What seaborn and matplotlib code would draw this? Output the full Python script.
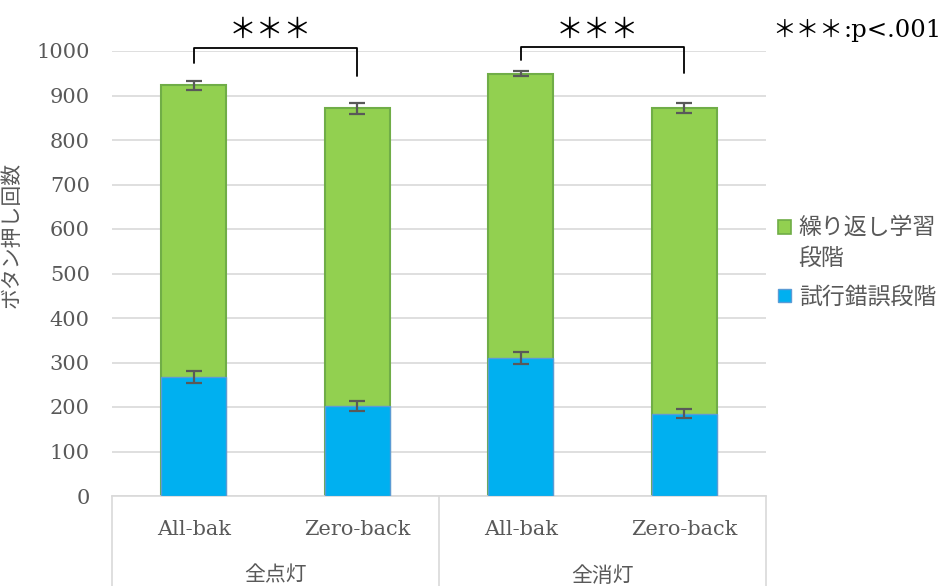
import matplotlib
matplotlib.use("Agg")
import matplotlib.pyplot as plt
import seaborn as sns
import pandas as pd
from matplotlib.patches import Patch, Rectangle
from matplotlib.legend_handler import HandlerPatch

# ---- data ----
groups = ["全点灯", "全点灯", "全消灯", "全消灯"]
group_names = ["全点灯", "全消灯"]
conditions = ["All-bak", "Zero-back", "All-bak", "Zero-back"]
trial_error = [268, 202, 310, 185]          # 試行錯誤段階
trial_error_err = [14, 12, 14, 10]
repetition = [655, 669, 639, 687]           # 繰り返し学習段階
total_err = [10, 12, 6, 11]
legend_labels = ["繰り返し学習\n段階", "試行錯誤段階"]
yticks = [0, 100, 200, 300, 400, 500, 600, 700, 800, 900, 1000]
ylabel = "ボタン押し回数"
sig_label = "＊＊＊"
sig_note_star = "＊＊＊"
sig_note_p = ":p<.001"

GREEN = "#92D050"
GREEN_EDGE = "#70AD47"
BLUE = "#00B0F0"
BLUE_EDGE = "#5B9BD5"
GRID = "#D9D9D9"
TXT = "#595959"

sns.set_style("white")
plt.rcParams['font.family'] = ['DejaVu Serif', 'Noto Sans CJK JP']

keys = [f"{g}|{c}" for g, c in zip(groups, conditions)]
totals = [t + r for t, r in zip(trial_error, repetition)]
df = pd.DataFrame({"key": keys, "trial": trial_error, "total": totals})

W, H = 946, 586
fig = plt.figure(figsize=(W / 100, H / 100), dpi=100)
L, R, B, T = 112, 766, 496, 51
ax = fig.add_axes([L / W, 1 - B / H, (R - L) / W, (B - T) / H])

sns.barplot(data=df, x="key", y="total", order=keys, color=GREEN, saturation=1,
            edgecolor=GREEN_EDGE, linewidth=1.5, width=0.4, errorbar=None, ax=ax, zorder=2)
sns.barplot(data=df, x="key", y="trial", order=keys, color=BLUE, saturation=1,
            edgecolor=BLUE_EDGE, linewidth=1.0, width=0.4, errorbar=None, ax=ax, zorder=3)

xs = list(range(len(keys)))
ax.errorbar(xs, totals, yerr=total_err, fmt='none', ecolor=TXT, elinewidth=1.6,
            capsize=5.5, capthick=1.6, zorder=5)
ax.errorbar(xs, trial_error, yerr=trial_error_err, fmt='none', ecolor=TXT, elinewidth=1.6,
            capsize=5.5, capthick=1.6, zorder=5)

ax.set_xlim(-0.5, 3.5)
ax.set_ylim(0, 1000)
ax.set_yticks(yticks)
ax.set_axisbelow(True)
ax.yaxis.grid(True, color=GRID, linewidth=1.2)
ax.xaxis.grid(False)
for s in ["left", "right", "top"]:
    ax.spines[s].set_visible(False)
ax.spines["bottom"].set_color(GRID)
ax.spines["bottom"].set_linewidth(1.2)

ax.set_xticks(xs)
ax.set_xticklabels(conditions)
ax.tick_params(axis='x', length=0, pad=17, labelsize=15, labelcolor=TXT)
ax.tick_params(axis='y', length=0, pad=16, labelsize=15, labelcolor=TXT)
ax.set_xlabel("")
ax.set_ylabel(ylabel, fontsize=15, color=TXT)
ax.yaxis.set_label_coords((22 - L) / (R - L), (B - 235) / (B - T))

# two-level category separators
trans = ax.get_xaxis_transform()
for xv in [-0.5, 1.5, 3.5]:
    ax.plot([xv, xv], [0, -(H - B) / (B - T) - 0.01], transform=trans, color=GRID,
            linewidth=1.2, clip_on=False)
for i, g in enumerate(group_names):
    ax.text(2 * i + 0.5, (B - 576) / (B - T), g, transform=trans, ha='center', va='center',
            fontsize=15, color=TXT)

# significance brackets
for x0, x1, ytop, yl, yr in [(0, 1, 1007, 973, 944), (2, 3, 1009, 980, 951)]:
    ax.plot([x0, x0, x1, x1], [yl, ytop, ytop, yr], color="black", linewidth=1.3,
            clip_on=False, zorder=6)
    ax.text((x0 + x1) / 2 - 0.03, 1047, sig_label, ha='center', va='center', fontsize=20,
            color="black", clip_on=False, family=['Noto Sans CJK JP'])

fig.text(843 / W, 1 - 30 / H, sig_note_star, ha='right', va='center', fontsize=17,
         color="black", family=['Noto Sans CJK JP'])
fig.text(843 / W, 1 - 30 / H, sig_note_p, ha='left', va='center', fontsize=17.5,
         color="black")


class TopHandler(HandlerPatch):
    def __init__(self, shift, **kw):
        super().__init__(**kw)
        self.shift = shift

    def create_artists(self, legend, orig_handle, xdescent, ydescent, width, height,
                       fontsize, trans):
        p = Rectangle((-xdescent, -ydescent + self.shift), width, height,
                      facecolor=orig_handle.get_facecolor(),
                      edgecolor=orig_handle.get_edgecolor(),
                      linewidth=orig_handle.get_linewidth(), transform=trans)
        return [p]


handles = [Patch(facecolor=GREEN, edgecolor=GREEN_EDGE, linewidth=1.2),
           Patch(facecolor=BLUE, edgecolor=BLUE_EDGE, linewidth=1.0)]
leg = ax.legend(handles, legend_labels, loc='upper left', bbox_to_anchor=(778 / W, 1 - 217 / H),
                bbox_transform=fig.transFigure, frameon=False, fontsize=16.5,
                handlelength=0.55, handleheight=0.55, handletextpad=0.35, labelspacing=0.75,
                borderaxespad=0, borderpad=0,
                handler_map={handles[0]: TopHandler(12), handles[1]: HandlerPatch()})
for t in leg.get_texts():
    t.set_color(TXT)
    t.set_linespacing(1.5)

fig.savefig("out.png", dpi=100)
